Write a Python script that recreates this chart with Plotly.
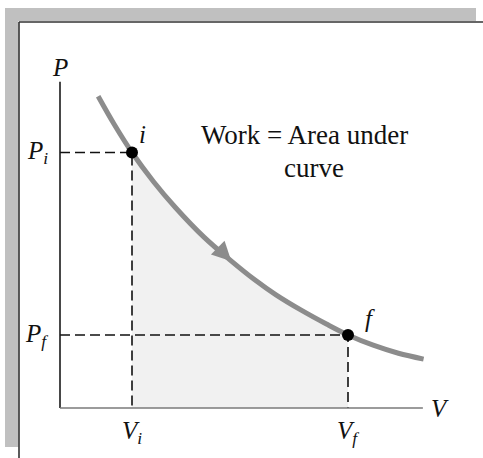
import plotly.graph_objects as go

# Expansion path on the P-V diagram (arbitrary units)
V_curve = [0.53, 0.75, 1.00, 1.30, 1.60, 2.00, 2.36, 2.70, 3.00, 3.35,
           3.70, 4.00, 4.35, 4.70, 5.05]
P_curve = [4.27, 3.89, 3.50, 3.10, 2.75, 2.34, 2.03, 1.76, 1.55, 1.34,
           1.15, 1.00, 0.86, 0.75, 0.67]

# Initial and final states
state_names = ["i", "f"]
V_states = [1.0, 4.0]
P_states = [3.5, 1.0]

# Axis extents
V_axis_max = 5.04
P_axis_max = 4.47

W, H = 483, 458
# data -> pixel: x = 60 + 72*V, y = 408 - 73*P
x_range = [-60 / 72, (W - 60) / 72]
y_range = [(408 - H) / 73, 408 / 73]

CURVE = "#8c8c8c"
FONT = "Liberation Serif"

Vi, Vf = V_states
Pi, Pf = P_states

fig = go.Figure()

# shaded work area under the curve between Vi and Vf
V_area = [v for v in V_curve if Vi <= v <= Vf]
P_area = [p for v, p in zip(V_curve, P_curve) if Vi <= v <= Vf]
fig.add_trace(go.Scatter(x=V_area, y=P_area, mode="lines", fill="tozeroy",
                         fillcolor="#f1f1f1", line=dict(width=0, shape="spline"),
                         hoverinfo="skip"))

# dashed guide lines
dash = dict(color="#111111", width=1.6, dash="10px,5px")
for v, p in zip(V_states, P_states):
    fig.add_trace(go.Scatter(x=[0, v, v], y=[p, p, 0], mode="lines",
                             line=dash, hoverinfo="skip"))

# axes
fig.add_trace(go.Scatter(x=[0, 0], y=[P_axis_max, 0], mode="lines",
                         line=dict(color="#1a1a1a", width=1.6), hoverinfo="skip"))
fig.add_trace(go.Scatter(x=[0, V_axis_max], y=[0, 0], mode="lines",
                         line=dict(color="#7a7a7a", width=1.6), hoverinfo="skip"))

# the process curve
fig.add_trace(go.Scatter(x=V_curve, y=P_curve, mode="lines",
                         line=dict(color=CURVE, width=5, shape="spline"),
                         hoverinfo="skip"))

# state points
fig.add_trace(go.Scatter(x=V_states, y=P_states, mode="markers",
                         marker=dict(color="black", size=12), hoverinfo="skip"))

# direction arrow along the curve
fig.add_annotation(x=2.38, y=2.01, xref="x", yref="y", ax=-15, ay=-15,
                   axref="pixel", ayref="pixel", text="", showarrow=True,
                   arrowhead=2, arrowsize=1.1, arrowwidth=3.5, arrowcolor=CURVE)

def label(x, y, text, size=25, xanchor="center"):
    fig.add_annotation(x=x, y=y, xref="x", yref="y", text=text, showarrow=False,
                       xanchor=xanchor, yanchor="middle",
                       font=dict(family=FONT, size=size, color="#111111"))

label(0.0, 4.66, "<i>P</i>")
label(-0.14, Pi, "<i>P<sub>i</sub></i>", xanchor="right")
label(-0.14, Pf, "<i>P<sub>f</sub></i>", xanchor="right")
label(Vi, -0.33, "<i>V<sub>i</sub></i>")
label(Vf, -0.33, "<i>V<sub>f</sub></i>")
label(5.28, 0.0, "<i>V</i>")
label(1.15, 3.75, "<i>%s</i>" % state_names[0])
label(4.3, 1.23, "<i>%s</i>" % state_names[1])
label(3.40, 3.74, "Work = Area under", size=27)
label(3.53, 3.29, "curve", size=27)

# page frame: grey band and dark rule along top and left
def px(x):
    return x / W

def py(y):
    return 1 - y / H

GREY = "#c0c0c0"
fig.add_shape(type="rect", xref="paper", yref="paper", x0=px(5), x1=px(476),
              y0=py(21), y1=py(8), fillcolor=GREY, line_width=0, layer="below")
fig.add_shape(type="rect", xref="paper", yref="paper", x0=px(5), x1=px(18.5),
              y0=py(447), y1=py(8), fillcolor=GREY, line_width=0, layer="below")
fig.add_shape(type="line", xref="paper", yref="paper", x0=px(19), x1=px(W),
              y0=py(22), y1=py(22), line=dict(color="#333333", width=1.6))
fig.add_shape(type="line", xref="paper", yref="paper", x0=px(19), x1=px(19),
              y0=py(22), y1=py(H), line=dict(color="#333333", width=1.6))

fig.update_layout(width=W, height=H, margin=dict(l=0, r=0, t=0, b=0),
                  paper_bgcolor="white", plot_bgcolor="white", showlegend=False,
                  xaxis=dict(range=x_range, visible=False, fixedrange=True),
                  yaxis=dict(range=y_range, visible=False, fixedrange=True))

fig.write_html("out.html", config={"displayModeBar": False})
